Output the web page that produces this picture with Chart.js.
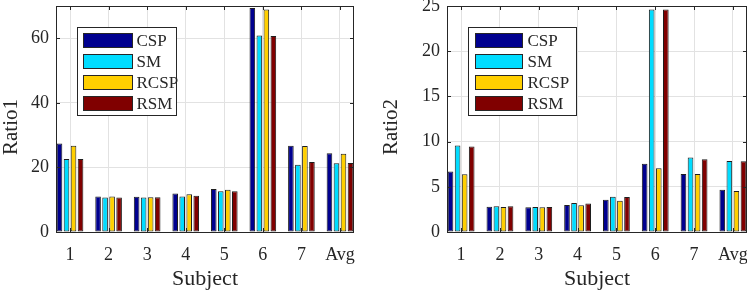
<!DOCTYPE html>
<html>
<head>
<meta charset="utf-8">
<script src="https://cdn.jsdelivr.net/npm/chart.js@4.4.1/dist/chart.umd.min.js"></script>
<style>
    html, body { margin: 0; padding: 0; background: #fff; }
    #wrap { position: relative; width: 747px; height: 292px; overflow: hidden; }
    .panel { position: absolute; top: 0; height: 292px; }
</style>
</head>
<body>
<div id="wrap">
    <div class="panel" style="left:0;width:380px"><canvas id="ratio1" width="380" height="292"></canvas></div>
    <div class="panel" style="left:380px;width:367px"><canvas id="ratio2" width="367" height="292"></canvas></div>
</div>
<script>
const subjects = ['1', '2', '3', '4', '5', '6', '7', 'Avg'];
const methods = ['CSP', 'SM', 'RCSP', 'RSM'];
const methodColors = ['#00008f', '#00dcff', '#ffcf00', '#800000'];

// Ratio1
const ratio1CSP  = [27.4, 11.0, 10.9, 11.9, 13.3, 69.4, 26.7, 24.4];
const ratio1SM   = [22.6, 10.7, 10.7, 11.0, 12.6, 60.9, 20.8, 21.3];
const ratio1RCSP = [26.7, 11.0, 10.8, 11.7, 13.1, 68.9, 26.6, 24.2];
const ratio1RSM  = [22.6, 10.7, 10.8, 11.2, 12.6, 60.7, 21.7, 21.4];

// Ratio2
const ratio2CSP  = [6.68, 2.80, 2.73, 2.99, 3.58, 7.56, 6.42, 4.68];
const ratio2SM   = [9.56, 2.84, 2.77, 3.21, 3.91, 24.6, 8.23, 7.86];
const ratio2RCSP = [6.38, 2.77, 2.73, 2.95, 3.47, 7.05, 6.42, 4.54];
const ratio2RSM  = [9.45, 2.84, 2.77, 3.14, 3.87, 24.6, 8.04, 7.82];

const ratio1Ticks = [0, 20, 40, 60];
const ratio2Ticks = [0, 5, 10, 15, 20, 25];

const serif = '"Liberation Serif", "Times New Roman", serif';
const ink = '#262626';
const gridColor = '#e2e2e2';

// axes box, inward ticks, legend and y label (MATLAB look)
const framePlugin = {
    id: 'frame',
    afterDraw(chart, args, opts) {
        const ctx = chart.ctx;
        const a = chart.chartArea;
        const xs = chart.scales.x, ys = chart.scales.y;
        ctx.save();
        ctx.strokeStyle = ink;
        ctx.lineWidth = 1;
        ctx.strokeRect(Math.round(a.left) + 0.5, Math.round(a.top) + 0.5,
            Math.round(a.right - a.left) - 1, Math.round(a.bottom - a.top));
        ctx.beginPath();
        xs.ticks.forEach(t => {
            const px = Math.round(xs.getPixelForValue(t.value)) + 0.5;
            ctx.moveTo(px, a.bottom); ctx.lineTo(px, a.bottom - 4);
            ctx.moveTo(px, a.top); ctx.lineTo(px, a.top + 4);
        });
        ys.ticks.forEach(t => {
            const py = Math.round(ys.getPixelForValue(t.value)) + 0.5;
            ctx.moveTo(a.left, py); ctx.lineTo(a.left + 4, py);
            ctx.moveTo(a.right, py); ctx.lineTo(a.right - 4, py);
        });
        ctx.stroke();

        // legend
        const L = opts.legend;
        const bx = Math.round(a.left + 21) + 0.5, by = Math.round(a.top + 21) + 0.5;
        ctx.fillStyle = '#fff';
        ctx.fillRect(bx, by, L.width, 88);
        ctx.strokeStyle = ink;
        ctx.strokeRect(bx, by, L.width, 88);
        ctx.font = '17px ' + serif;
        ctx.textBaseline = 'middle';
        ctx.textAlign = 'left';
        chart.data.datasets.forEach((ds, i) => {
            const cy = by + 13 + i * 21;
            ctx.fillStyle = ds.backgroundColor;
            ctx.fillRect(bx + L.patchX, cy - 7, L.patchW, 14);
            ctx.strokeStyle = ink;
            ctx.strokeRect(bx + L.patchX, cy - 7, L.patchW, 14);
            ctx.fillStyle = ink;
            ctx.fillText(ds.label, bx + L.textX, cy + 1);
        });

        // y axis label
        ctx.translate(11, (a.top + a.bottom) / 2 + 8);
        ctx.rotate(-Math.PI / 2);
        ctx.textAlign = 'center';
        ctx.font = '21px ' + serif;
        ctx.fillStyle = ink;
        ctx.fillText(opts.yLabel, 0, 0);
        ctx.restore();
    }
};

function makeChart(id, series, yMax, yTicks, yLabel, axisWidth, padRight, legend) {
    const datasets = series.map((vals, k) => ({
        label: methods[k],
        data: subjects.map((s, i) => ({ x: i + 1, y: vals[i] })),
        backgroundColor: methodColors[k],
        borderColor: '#1e1e1e',
        borderWidth: 1,
        borderSkipped: false,
        categoryPercentage: 4 / 5.5,
        barPercentage: 0.8
    }));
    return new Chart(document.getElementById(id), {
        type: 'bar',
        data: { datasets: datasets },
        options: {
            responsive: false,
            animation: false,
            devicePixelRatio: 1,
            layout: { padding: { top: 6, right: padRight, bottom: 0, left: 0 } },
            plugins: {
                legend: { display: false },
                tooltip: { enabled: false },
                frame: { legend: legend, yLabel: yLabel }
            },
            scales: {
                x: {
                    type: 'linear',
                    bounds: 'data',
                    offset: false,
                    min: 1 - 4 / 11,
                    max: 8 + 4 / 11,
                    afterBuildTicks: s => { s.ticks = subjects.map((c, i) => ({ value: i + 1 })); },
                    afterFit: s => { s.height = 60; s.paddingLeft = 0; s.paddingRight = 0; },
                    grid: { color: gridColor, drawTicks: false, offset: false },
                    border: { display: false },
                    ticks: {
                        autoSkip: false,
                        maxRotation: 0,
                        padding: 12,
                        color: ink,
                        font: { family: serif, size: 18 },
                        callback: v => subjects[v - 1]
                    },
                    title: {
                        display: true,
                        text: 'Subject',
                        color: ink,
                        font: { family: serif, size: 22 },
                        padding: { top: 0, bottom: 0 }
                    }
                },
                y: {
                    bounds: 'data',
                    min: 0,
                    max: yMax,
                    afterBuildTicks: s => { s.ticks = yTicks.map(v => ({ value: v })); },
                    afterFit: s => { s.width = axisWidth; s.paddingTop = 0; s.paddingBottom = 0; },
                    grid: { color: gridColor, drawTicks: false },
                    border: { display: false },
                    ticks: {
                        padding: 7,
                        color: ink,
                        font: { family: serif, size: 18 }
                    }
                }
            }
        },
        plugins: [framePlugin]
    });
}

makeChart('ratio1', [ratio1CSP, ratio1SM, ratio1RCSP, ratio1RSM], 70, ratio1Ticks, 'Ratio1', 56, 26,
    { width: 99, patchX: 6, patchW: 49, textX: 59 });
makeChart('ratio2', [ratio2CSP, ratio2SM, ratio2RCSP, ratio2RSM], 25, ratio2Ticks, 'Ratio2', 67, 0,
    { width: 108, patchX: 7, patchW: 47, textX: 59 });
</script>
</body>
</html>
